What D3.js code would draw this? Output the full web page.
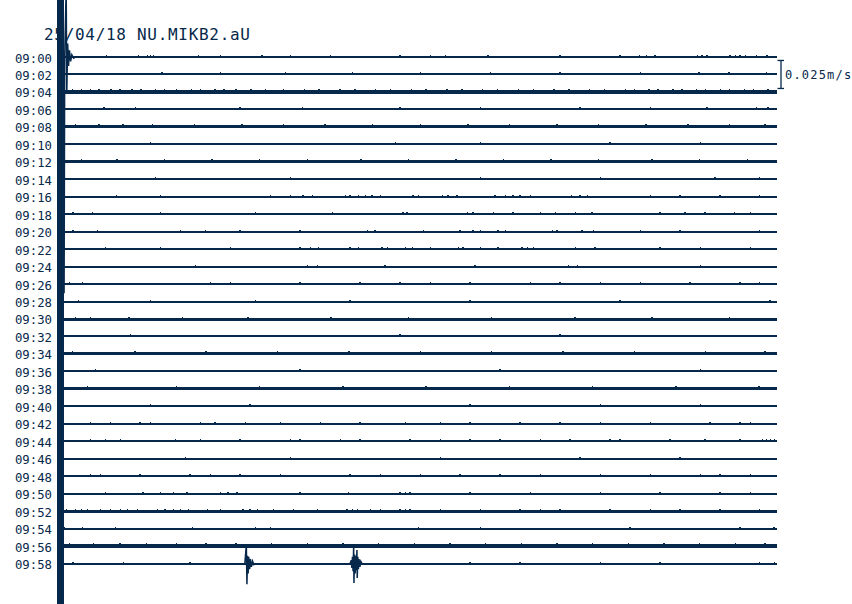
<!DOCTYPE html>
<html><head><meta charset="utf-8">
<script src="https://cdn.jsdelivr.net/npm/d3@7"></script>
<style>html,body{margin:0;padding:0;background:#fff;} svg{display:block;}</style>
</head><body>
<svg id="chart" width="852" height="604"></svg>
<script>
// ---------- DATA ----------
const title = "25/04/18 NU.MIKB2.aU";
const timeLabels = ["09:00","09:02","09:04","09:06","09:08","09:10","09:12","09:14","09:16","09:18",
  "09:20","09:22","09:24","09:26","09:28","09:30","09:32","09:34","09:36","09:38",
  "09:40","09:42","09:44","09:46","09:48","09:50","09:52","09:54","09:56","09:58"];
const traceSeconds = 120;
const scaleValue = 0.025;          // m/s
const scaleLabel = "0.025m/s";
// background noise amplitude per trace (m/s)
const noiseLevel = [0,0,0.0007,0,0.0006,0,0.0006,0,0,0,
  0,0,0,0,0,0.0004,0,0.0006,0,0.0004,
  0,0,0.0002,0,0,0,0.0004,0,0.0007,0];
// times (s within each 2-min trace) of small noise bursts
const blipTimes = [
  [7.2,12.6,14.1,14.6,15.1,22.7,26.4,33.4,38.2,44.9,56.6,61.7,64.2,71.4,83.5,93.6,96.9,98.1,99.5,106.6,107.4,108.2,112.1,113.0,113.8,114.7,116.6,118.3],
  [16.6,26.4,37.3,48.6,60.0,71.8,83.5,97.0,106.9,111.9,118.2],
  [1.5,3.0,4.5,6.0,8.0,9.5,11.5,13.0,15.5,17.0,19.0,21.5,23.0,25.5,27.0,29.0,31.5,34.0,37.0,40.5,43.0,46.5,49.0,52.5,55.0,58.5,61.0,64.5,67.0,70.5,73.0,76.5,79.0,82.5,85.0,88.5,91.0,94.5,96.0,98.5,100.0,102.5,104.0,106.5,108.0,110.5,112.0,114.5,116.0,118.5],
  [6.8,12.1,29.7,40.2,56.6,70.1,86.9,98.7,108.2,116.6,118.5],
  [2.0,6.0,10.0,15.0,22.0,30.0,37.0,44.0,52.0,60.0,68.0,75.0,83.0,90.0,98.0,105.0,112.0,118.0],
  [14.6,55.8,70.1,91.9,107.1],
  [3.0,9.0,17.0,25.0,33.0,41.0,50.0,58.0,66.0,74.0,82.0,90.0,99.0,107.0,115.0],
  [15.5,38.2,70.1,90.3,109.6,117.1],
  [8.9,16.3,34.8,38.2,40.3,41.9,47.4,48.2,49.6,50.8,51.9,53.3,58.8,59.7,63.7,64.7,66.2,72.6,74.3,75.6,76.8,78.5,85.4,86.9,88.1,98.7,103.7,110.4,117.1],
  [1.6,4.9,16.3,32.3,45.2,57.1,57.8,67.9,68.9,72.3,75.6,80.2,82.7,86.1,88.9,100.3,104.5,107.9,112.9,115.5],
  [1.6,5.7,19.7,23.9,29.7,39.8,51.1,52.4,60.5,66.7,68.9,70.1,73.1,74.3,82.2,83.0,87.2,89.1,97.0,103.7,117.1],
  [7.1,16.3,28.1,39.8,41.5,42.9,48.2,49.6,53.6,54.5,57.5,58.7,61.7,66.4,67.2,70.1,73.1,77.1,78.0,79.0,86.1,89.4,100.3,107.1,115.5],
  [22.2,41.0,42.7,54.1,69.2,84.9,86.4,107.1],
  [1.0,3.2,24.7,28.1,39.8,49.9,56.6,61.7,68.4,78.5,83.5,90.3,97.0,105.4,113.8,117.1],
  [2.5,14.6,32.3,48.2,68.4,93.6,118.8],
  [2.0,4.5,11.0,20.0,31.0,45.0,58.0,72.0,86.0,99.0,112.0],
  [11.3,56.6,83.5],
  [1.5,12.0,24.0,36.0,48.0,60.0,72.0,84.0,96.0,108.0,118.0],
  [5.4,39.8,73.4,107.1],
  [4.0,19.0,33.0,47.0,61.0,75.0,89.0,103.0,117.0],
  [14.6,31.4,68.4,90.3,107.1],
  [4.5,7.9,12.9,14.6,23.0,25.5,30.6,36.5,43.2,49.9,57.5,63.4,68.4,76.8,83.5,90.3,98.7,108.7,113.8,115.5],
  [4.5,7.1,9.6,18.8,23.0,29.7,38.2,39.8,46.6,49.9,58.3,63.4,68.4,73.4,80.2,85.2,91.9,93.6,102.0,107.9,113.8,117.6,118.2,118.9,119.6],
  [20.5,38.2,63.4,86.9,103.7],
  [4.5,6.2,12.9,21.3,24.7,29.7,36.5,48.2,53.3,60.0,66.7,73.4,80.2,90.3,98.7,107.1,110.4,115.5],
  [7.1,13.4,16.3,18.5,20.8,26.4,27.7,29.2,39.8,47.9,56.6,57.5,58.3,68.4,78.5,90.3,100.3,110.4,115.5],
  [0.5,2.0,3.0,4.0,6.2,7.9,9.6,10.8,12.4,15.8,17.1,18.5,19.7,21.0,24.2,26.4,30.2,31.4,32.6,35.3,38.7,42.7,47.7,48.6,49.4,51.6,53.3,56.6,57.5,58.3,63.4,70.1,76.8,80.2,83.5,91.9,98.7,103.7,110.4,117.1],
  [0.2,3.2,8.7,21.7,32.3,34.8,59.7,70.1,95.3,113.8,119.5],
  [1.0,5.0,9.5,14.0,19.0,24.0,29.0,35.0,41.0,47.0,53.0,59.0,65.0,71.0,77.0,83.0,89.0,95.0,101.0,107.0,113.0,118.0],
  [1.6,10.1,21.3,68.4,76.8,90.3,100.3,117.1,119.6]
];
// saturated (clipped) signal at start of record, seconds
const clipSpan = [-1.05, 0.02];
// waveform [seconds, m/s] on 09:00 trace (onset)
const onsetWave = [[0,0],[0.1,-0.211],[0.2,0],[0.45,0.062],[0.55,-0.033],[0.7,0.012],[0.85,-0.008],[1.0,0.006],[1.2,-0.004],[1.4,0.002],[1.7,-0.001],[2.0,0]];
// local events on 09:58 trace
const eventA = [[30.5,0],[30.75,0.0167],[30.85,-0.0185],[30.95,0.007],[31.05,-0.009],[31.15,0.006],[31.3,-0.005],[31.45,0.004],[31.6,-0.003],[31.8,0.002],[32.0,-0.001],[32.3,0]];
const eventB = [[48.2,0],[48.4,0.003],[48.5,-0.004],[48.6,0.006],[48.7,-0.007],[48.8,0.0148],[48.85,-0.0175],[48.95,0.008],[49.05,-0.009],[49.15,0.007],[49.25,-0.006],[49.35,0.012],[49.4,-0.013],[49.5,0.006],[49.6,-0.005],[49.7,0.004],[49.85,-0.003],[50.0,0.002],[50.2,0]];

// ---------- DRAW ----------
const W = 852, H = 604;
const ink = "#06284a";
const svg = d3.select("#chart");
const x = d3.scaleLinear().domain([0, traceSeconds]).range([63.5, 777]);
const y = d3.scalePoint().domain(timeLabels).range([57, 563.5]);
const amp = d3.scaleLinear().domain([0, scaleValue]).range([0, 28]);

// title
svg.append("text").attr("x", 44).attr("y", 40)
  .attr("font-family", "DejaVu Sans Mono, monospace").attr("font-size", 16)
  .attr("letter-spacing", 0.7).attr("fill", ink).text(title);

// labels
svg.append("g").selectAll("text").data(timeLabels).join("text")
  .attr("x", 52).attr("y", d => y(d) + 5.5).attr("text-anchor", "end")
  .attr("font-family", "DejaVu Sans Mono, monospace").attr("font-size", 12.3)
  .attr("fill", ink).text(d => d);

// baselines
const traces = svg.append("g").attr("shape-rendering", "crispEdges");
timeLabels.forEach((lab, i) => {
  const w = 2 + 2 * amp(noiseLevel[i]);
  const top = Math.round(y(lab) - w / 2);
  traces.append("rect").attr("x", x(0)).attr("width", x(traceSeconds) - x(0))
    .attr("y", top).attr("height", Math.round(w)).attr("fill", ink);
  traces.selectAll(null).data(blipTimes[i]).join("rect")
    .attr("x", t => x(t - 0.12)).attr("width", t => x(t + 0.12) - x(t - 0.12))
    .attr("y", top - 1).attr("height", 1).attr("fill", ink);
});

// waveforms
const wave = lab => d3.line().x(d => x(d[0])).y(d => y(lab) - amp(d[1]));
svg.append("path").attr("d", wave(timeLabels[0])(onsetWave))
  .attr("fill", "none").attr("stroke", ink).attr("stroke-width", 1.5);
[eventA, eventB].forEach(ev => {
  svg.append("path").attr("d", wave(timeLabels[29])(ev))
    .attr("fill", "none").attr("stroke", ink).attr("stroke-width", 1.5);
});

// clipped signal bar
svg.append("rect").attr("x", x(clipSpan[0])).attr("width", x(clipSpan[1]) - x(clipSpan[0]))
  .attr("y", 0).attr("height", H).attr("fill", ink).attr("shape-rendering", "crispEdges");

// scale bar
const sy = y(timeLabels[1]);
const half = amp(scaleValue) / 2;
const sb = svg.append("g").attr("stroke", ink).attr("stroke-width", 1.3).attr("fill", "none");
sb.append("line").attr("x1", 781).attr("x2", 781).attr("y1", sy - half).attr("y2", sy + half);
sb.append("line").attr("x1", 777.5).attr("x2", 784).attr("y1", sy - half).attr("y2", sy - half);
sb.append("line").attr("x1", 777.5).attr("x2", 784).attr("y1", sy + half).attr("y2", sy + half);
svg.append("text").attr("x", 785).attr("y", sy + 4.5)
  .attr("font-family", "DejaVu Sans Mono, monospace").attr("font-size", 12)
  .attr("letter-spacing", 1.2).attr("fill", ink).text(scaleLabel);
</script>
</body></html>
